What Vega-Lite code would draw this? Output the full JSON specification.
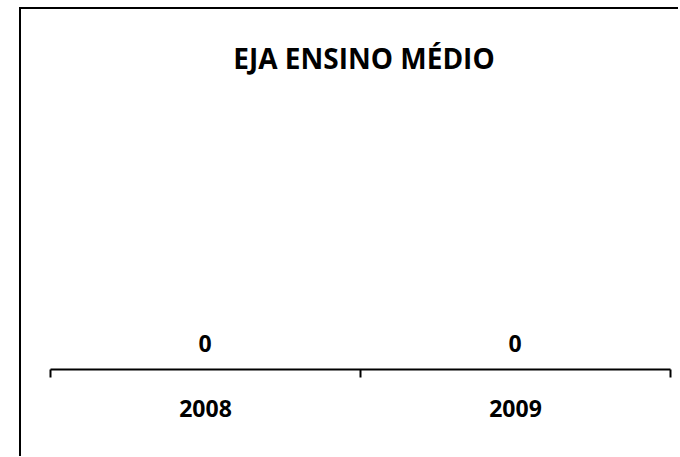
{
  "$schema": "https://vega.github.io/schema/vega-lite/v6.json",
  "autosize": "none",
  "width": 660,
  "height": 449,
  "padding": {"left": 20, "top": 8, "right": 0, "bottom": 0},
  "background": "white",
  "config": {"view": {"stroke": "black", "strokeWidth": 2, "strokeDash": [658, 1112, 449, 0]}},
  "title": {
    "text": "EJA ENSINO MÉDIO",
    "font": "Open Sans",
    "fontSize": 28,
    "fontWeight": "bold",
    "color": "black",
    "anchor": "middle",
    "frame": "group",
    "offset": -50,
    "baseline": "middle",
    "dx": 14,
    "dy": 31
  },
  "data": {"values": [
    {"year": "2008", "value": 0},
    {"year": "2009", "value": 0}
  ]},
  "encoding": {
    "x": {
      "field": "year",
      "type": "nominal",
      "scale": {"range": [30, 650], "paddingInner": 0, "paddingOuter": 0},
      "axis": {
        "title": null,
        "orient": "bottom",
        "offset": -88,
        "domainColor": "black",
        "domainWidth": 2,
        "tickColor": "black",
        "tickWidth": 2,
        "tickSize": 8,
        "tickBand": "extent",
        "labelAngle": 0,
        "labelFont": "Open Sans",
        "labelFontSize": 23,
        "labelFontWeight": "bold",
        "labelColor": "black",
        "labelPadding": 32,
        "labelBaseline": "middle"
      }
    },
    "y": {
      "field": "value",
      "type": "quantitative",
      "scale": {"domain": [0, 1], "range": [361, 0]},
      "axis": null
    }
  },
  "layer": [
    {"mark": {"type": "bar", "color": "#4F81BD"}},
    {
      "mark": {"type": "text", "dy": -24, "font": "Open Sans", "fontSize": 23, "fontWeight": "bold", "color": "black", "baseline": "middle"},
      "encoding": {"text": {"field": "value", "type": "quantitative"}}
    }
  ]
}
